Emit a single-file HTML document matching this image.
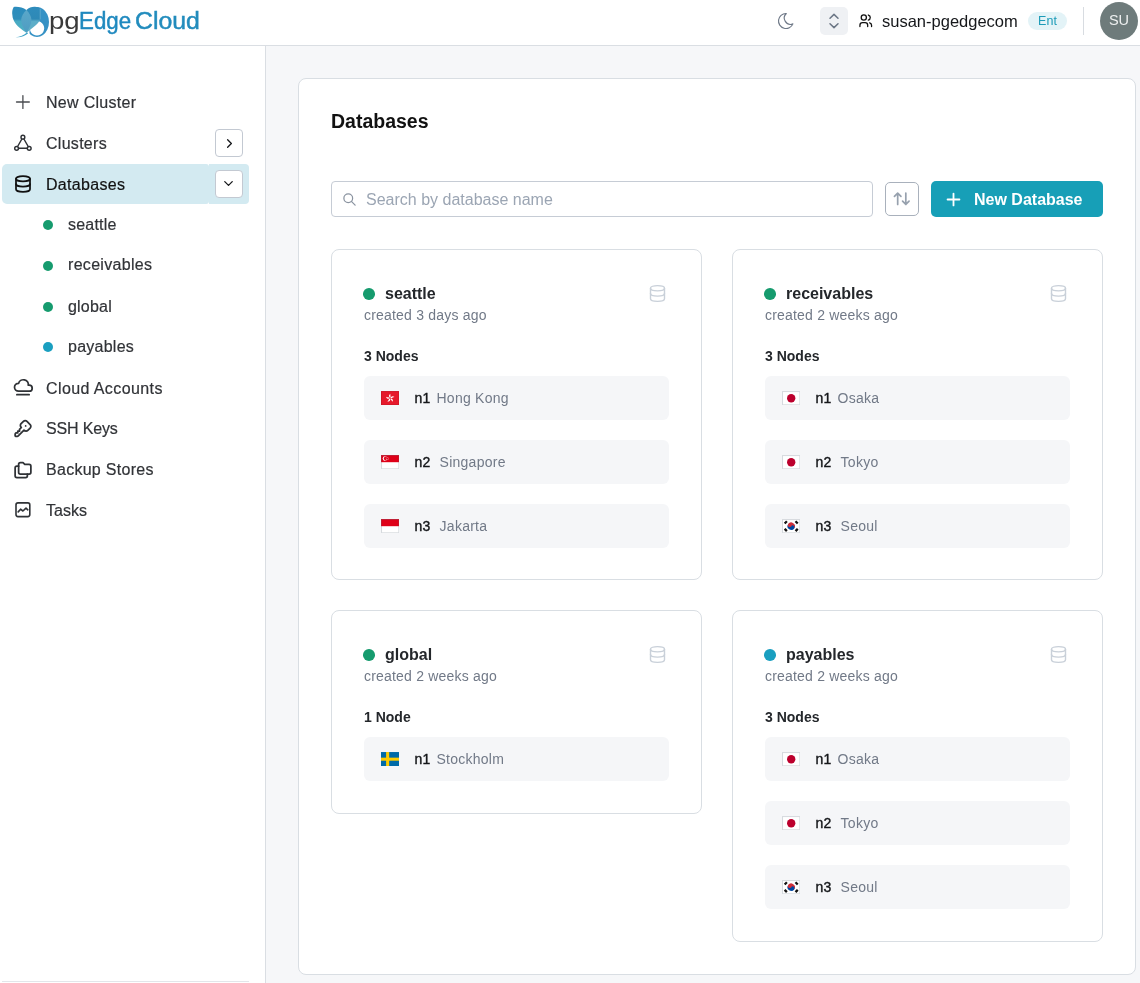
<!DOCTYPE html>
<html><head><meta charset="utf-8">
<style>
*{box-sizing:border-box;margin:0;padding:0}
html,body{width:1140px;height:983px;overflow:hidden;background:#fff}
body{will-change:transform}
body{font-family:"Liberation Sans",Arial,sans-serif;color:#1f2328;position:relative}
.abs{position:absolute}
.logo{top:5.5px;font-size:23px;line-height:30px;white-space:nowrap;transform-origin:0 0}
#hdr{position:absolute;left:0;top:0;width:1140px;height:46px;background:#fff;border-bottom:1px solid #dadee3}
#side{position:absolute;left:0;top:46px;width:266px;height:937px;background:#fff;border-right:1px solid #dadee3}
#main{position:absolute;left:266px;top:46px;width:874px;height:937px;background:#f6f7f9}
#panel{position:absolute;left:298px;top:78px;width:838px;height:896.5px;background:#fff;border:1px solid #d9dee3;border-radius:8px}
.ico{position:absolute;fill:none;stroke-linecap:round;stroke-linejoin:round}
.sb{position:absolute;left:0;font-size:16px;line-height:24px;color:#313337;white-space:nowrap;-webkit-text-stroke:.2px currentColor}
.dot{position:absolute;border-radius:50%}
.card{position:absolute;width:371px;background:#fff;border:1px solid #d9dee3;border-radius:8px}
.cdot{position:absolute;left:31px;top:38.2px;width:11.7px;height:11.7px;border-radius:50%;background:#169b6e}
.ctitle{position:absolute;left:53px;top:33.5px;font-size:16px;line-height:20px;font-weight:700;color:#24272b;white-space:nowrap}
.csub{position:absolute;left:32px;top:54.9px;font-size:14px;line-height:20px;color:#717987;white-space:nowrap;letter-spacing:.2px}
.cdb{position:absolute;left:315.4px;top:32.6px}
.cnodes{position:absolute;left:32px;top:96px;font-size:14px;line-height:20px;font-weight:700;color:#24272b;white-space:nowrap}
.row{position:absolute;left:32px;width:305px;height:43.5px;background:#f5f6f8;border-radius:6px}
.flag{position:absolute;left:16.6px;top:15px;width:18.4px;height:14.4px}
.nid{position:absolute;left:50.6px;top:12.45px;font-size:14px;line-height:20px;white-space:nowrap;color:#15171a;-webkit-text-stroke:.4px #15171a}
.nloc{position:absolute;top:12.45px;font-size:14px;line-height:20px;white-space:nowrap;color:#717987;letter-spacing:.25px}
</style></head><body>

<!-- HEADER -->
<div id="hdr">
  <!-- logo mark -->
  <svg class="abs" style="left:10px;top:4px" width="42" height="36" viewBox="0 0 42 36">
    <defs>
      <linearGradient id="lgL" x1="0" y1="0" x2="0" y2="1">
        <stop offset="0" stop-color="#2b8cbd"/><stop offset="0.47" stop-color="#2f8eba"/><stop offset="0.56" stop-color="#49aac3"/><stop offset="1" stop-color="#50b0c4"/>
      </linearGradient>
      <linearGradient id="lgR" x1="0" y1="0" x2="0" y2="1">
        <stop offset="0" stop-color="#2f8cbc"/><stop offset="0.47" stop-color="#2e89b6"/><stop offset="0.56" stop-color="#5cadc8"/><stop offset="1" stop-color="#62b0c8"/>
      </linearGradient>
      <linearGradient id="lgM" x1="0" y1="0" x2="0" y2="1">
        <stop offset="0" stop-color="#5aa7c9"/><stop offset="1" stop-color="#4e9dc2"/>
      </linearGradient>
    </defs>
    <path fill-rule="evenodd" fill="#3692c5" d="M27,3 A12,15 0 1 1 26.99,3 Z M27,17.1 A7.2,7.2 0 1 0 27.01,17.1 Z"/>
    <path fill="#fff" d="M14,19 L19.5,24 L19.5,34 L14,34 Z"/>
    <path fill="url(#lgL)" d="M16.4,5.9 C13,3.2 7,2.4 3.7,3 C2.2,5.5 1.9,8.5 2.4,11.2 C2.6,17 7,22.8 16.4,28.7 Z"/>
    <path fill="url(#lgR)" d="M16.4,5.9 C19,3.5 22,2.6 25,2.8 C27.5,3 29.3,3.6 30.2,4.6 L30.2,15.6 C28.5,19 26,21.5 23,23.5 C20.5,25.5 18,27.5 16.4,28.7 Z"/>
    <path fill="url(#lgM)" d="M16.4,6 C13.5,9 11.2,12.5 11.2,15.5 C11.2,20 13.8,25 16.4,28.7 C19,25 21.4,20 21.4,15.5 C21.4,12.5 19.3,9 16.4,6 Z"/>
    <path fill="#3ba0c6" d="M17.2,28.2 C14,31 10,32.9 5.5,33.2 C10,33.9 14.5,32.4 18,29.6 Z"/>
    <path d="M30.2,4.8 L30.2,15.4" stroke="#92c6de" stroke-width="0.45" fill="none"/>
  </svg>
  <div class="abs logo" style="left:49.4px;transform:scaleX(1.2);color:#3a3a3a">pg</div>
  <div class="abs logo" style="left:79px;transform:scaleX(0.97);color:#1f89bf;-webkit-text-stroke:.45px #1f89bf">Edge</div>
  <div class="abs logo" style="left:134.6px;transform:scaleX(1.08);color:#228cbd;-webkit-text-stroke:.45px #228cbd">Cloud</div>

  <!-- moon -->
  <svg class="ico" style="left:776px;top:11px" width="20" height="20" viewBox="0 0 24 24" stroke="#6e7887" stroke-width="1.4"><path d="M12 3c.132 0 .263 0 .393 0a7.5 7.5 0 0 0 7.92 12.446a9 9 0 1 1 -8.313 -12.454z"/></svg>
  <!-- selector -->
  <div class="abs" style="left:820px;top:7px;width:28px;height:28px;background:#eff1f4;border-radius:5px"></div>
  <svg class="ico" style="left:822px;top:9px" width="24" height="24" viewBox="0 0 24 24" stroke="#6b7685" stroke-width="1.5"><path d="M8 9.2l4 -3.8l4 3.8"/><path d="M16 14.8l-4 3.8l-4 -3.8"/></svg>
  <!-- users -->
  <svg class="ico" style="left:858.3px;top:13.3px" width="15.5" height="15.5" viewBox="0 0 24 24" stroke="#111" stroke-width="2"><path d="M5 7a4 4 0 1 0 8 0a4 4 0 1 0 -8 0"/><path d="M3 21v-2a4 4 0 0 1 4 -4h4a4 4 0 0 1 4 4v2"/><path d="M16 3.13a4 4 0 0 1 0 7.75"/><path d="M21 21v-2a4 4 0 0 0 -3 -3.85"/></svg>
  <div class="abs" style="left:882px;top:9px;font-size:16.5px;line-height:24px;color:#15171a;white-space:nowrap">susan-pgedgecom</div>
  <div class="abs" style="left:1028px;top:12px;width:39px;height:18px;border-radius:9px;background:#e3f3f7;color:#1c9bb8;font-size:12.5px;line-height:18px;text-align:center">Ent</div>
  <div class="abs" style="left:1083px;top:7px;width:1px;height:28px;background:#d8dce1"></div>
  <div class="abs" style="left:1100px;top:2px;width:38px;height:38px;border-radius:50%;background:#6e7b7b;color:#eef0f0;font-size:14.5px;line-height:37px;text-align:center">SU</div>
</div>

<!-- SIDEBAR -->
<div id="side"></div>
<div id="sideItems">
  <!-- Databases highlight -->
  <div class="abs" style="left:2px;top:164px;width:206.5px;height:40px;background:#d3eaf1;border-radius:5px 3px 3px 5px"></div>
  <div class="abs" style="left:208.5px;top:164px;width:40.5px;height:40px;background:#d3eaf1;border-radius:0 4px 4px 0"></div>
  <!-- chevron buttons -->
  <div class="abs" style="left:215px;top:129px;width:28px;height:28px;border:1px solid #c3c9d2;border-radius:4px;background:#fff"></div>
  <svg class="ico" style="left:221.5px;top:135.5px" width="15" height="15" viewBox="0 0 24 24" stroke="#15171a" stroke-width="2.1"><path d="M9 6l6 6l-6 6"/></svg>
  <div class="abs" style="left:215px;top:170px;width:28px;height:28px;border:1px solid #c3c9d2;border-radius:4px;background:#fff"></div>
  <svg class="ico" style="left:221.3px;top:176px" width="15" height="15" viewBox="0 0 24 24" stroke="#15171a" stroke-width="2.1"><path d="M6 9l6 6l6 -6"/></svg>

  <!-- icons (page coords) -->
  <svg class="ico" style="left:0;top:0" width="60" height="540" viewBox="0 0 60 540" stroke-width="1.75">
    <path d="M16.5,102 H29.3 M22.9,95.6 V108.4" stroke="#4a4c50" stroke-width="1.3"/>
    <g stroke="#2f3236" stroke-width="1.45">
      <circle cx="22.9" cy="137.2" r="1.9"/><circle cx="16.6" cy="148.3" r="1.9"/><circle cx="29.2" cy="148.3" r="1.9"/>
      <path d="M21.9,139 L17.6,146.5 M23.9,139 L28.2,146.5 M18.5,148.3 H27.3"/>
    </g>
    <g transform="translate(12.5,173.5) scale(0.875)" stroke="#111" stroke-width="2">
      <path d="M4 6a8 3 0 1 0 16 0a8 3 0 1 0 -16 0"/><path d="M4 6v6a8 3 0 0 0 16 0v-6"/><path d="M4 12v6a8 3 0 0 0 16 0v-6"/>
    </g>
    <g transform="translate(12.5,377.2) scale(0.875)" stroke="#2f3236" stroke-width="2">
      <path d="M7 16a4.6 4.4 0 0 1 0 -9a5 4.5 0 0 1 11 2h1a3.5 3.5 0 0 1 0 7h-12"/><path d="M5 20l14 0"/>
    </g>
    <g transform="translate(12.5,418) scale(0.875)" stroke="#2f3236" stroke-width="2">
      <path d="M16.555 3.843l3.602 3.602a2.877 2.877 0 0 1 0 4.069l-2.643 2.643a2.877 2.877 0 0 1 -4.069 0l-.301 -.301l-6.558 6.558a2 2 0 0 1 -1.239 .578l-.175 .008h-1.172a1 1 0 0 1 -.993 -.883l-.007 -.117v-1.172a2 2 0 0 1 .467 -1.284l.119 -.13l.414 -.414h2v-2h2v-2l2.144 -2.144l-.301 -.301a2.877 2.877 0 0 1 0 -4.069l2.643 -2.643a2.877 2.877 0 0 1 4.069 0z"/><path d="M15 9h.01"/>
    </g>
    <g transform="translate(12.5,459.2) scale(0.875)" stroke="#2f3236" stroke-width="2">
      <path d="M9 4h3l2 2h5a2 2 0 0 1 2 2v7a2 2 0 0 1 -2 2h-10a2 2 0 0 1 -2 -2v-9a2 2 0 0 1 2 -2"/><path d="M17 17v2a2 2 0 0 1 -2 2h-10a2 2 0 0 1 -2 -2v-9a2 2 0 0 1 2 -2h2"/>
    </g>
    <g stroke="#2f3236" stroke-width="1.6">
      <rect x="16" y="502.9" width="13.8" height="13.7" rx="2"/>
      <path d="M18.2,511.9 L20.6,509.2 L22.9,511 L26,508.1 L27.8,509.8"/>
    </g>
  </svg>

  <div class="sb" style="left:46px;top:91px;letter-spacing:0.3px">New Cluster</div>
  <div class="sb" style="left:46px;top:132px;letter-spacing:0.28px">Clusters</div>
  <div class="sb" style="left:46px;top:173px;color:#111;letter-spacing:0.3px">Databases</div>
  <div class="dot" style="left:43px;top:220px;width:10px;height:10px;background:#169b6e"></div>
  <div class="sb" style="left:68px;top:213px;letter-spacing:0.2px">seattle</div>
  <div class="dot" style="left:43px;top:261px;width:10px;height:10px;background:#169b6e"></div>
  <div class="sb" style="left:68px;top:253px;letter-spacing:0.3px">receivables</div>
  <div class="dot" style="left:43px;top:301.5px;width:10px;height:10px;background:#169b6e"></div>
  <div class="sb" style="left:68px;top:295px;letter-spacing:0.2px">global</div>
  <div class="dot" style="left:43px;top:342px;width:10px;height:10px;background:#1a9fc0"></div>
  <div class="sb" style="left:68px;top:335px;letter-spacing:0.25px">payables</div>
  <div class="sb" style="left:46px;top:377px;letter-spacing:0.4px">Cloud Accounts</div>
  <div class="sb" style="left:46px;top:417px;letter-spacing:-0.15px">SSH Keys</div>
  <div class="sb" style="left:46px;top:458px;letter-spacing:0.28px">Backup Stores</div>
  <div class="sb" style="left:46px;top:498.5px">Tasks</div>
  <div class="abs" style="left:2px;top:981px;width:247px;height:1px;background:#e3e6ea"></div>
</div>

<!-- MAIN -->
<div id="main"></div>
<div id="panel"></div>
<div class="abs" style="left:331px;top:108px;font-size:19.5px;line-height:26px;font-weight:700;color:#111">Databases</div>

<!-- search -->
<div class="abs" style="left:331px;top:181px;width:542px;height:36px;border:1px solid #c6ccd5;border-radius:4px;background:#fff"></div>
<svg class="ico" style="left:342px;top:192px" width="15" height="15" viewBox="0 0 24 24" stroke="#8a93a0" stroke-width="2"><path d="M3 10a7 7 0 1 0 14 0a7 7 0 1 0 -14 0"/><path d="M21 21l-6 -6"/></svg>
<div class="abs" style="left:366px;top:188px;font-size:16px;line-height:24px;color:#9ba5b3;white-space:nowrap">Search by database name</div>
<!-- sort btn -->
<div class="abs" style="left:885px;top:182px;width:34px;height:34px;border:1px solid #a9b1bc;border-radius:5px;background:#fff"></div>
<svg class="ico" style="left:892.1px;top:189.1px" width="19.5" height="19.5" viewBox="0 0 24 24" stroke="#97a1ae" stroke-width="2.1"><path d="M3 9l4 -4l4 4m-4 -4v14"/><path d="M21 15l-4 4l-4 -4m4 4v-14"/></svg>
<!-- new database btn -->
<div class="abs" style="left:931px;top:181px;width:172px;height:36px;border-radius:5px;background:#179fb7"></div>
<svg class="ico" style="left:944.3px;top:189.7px" width="19" height="19" viewBox="0 0 24 24" stroke="#fff" stroke-width="2.3"><path d="M12 4.5v15m7.5-7.5h-15"/></svg>
<div class="abs" style="left:974px;top:188px;font-size:16px;line-height:24px;font-weight:700;color:#fff;white-space:nowrap">New Database</div>

<!-- CARDS -->
<div id="cards">
<div class="card" style="left:331px;top:249px;height:331px">
  <div class="cdot" style="background:#169b6e"></div><div class="ctitle">seattle</div><svg class="cdb ico" width="21" height="21" viewBox="0 0 24 24" stroke="#c9d0d9" stroke-width="1.6"><path d="M4 6a8 3 0 1 0 16 0a8 3 0 1 0 -16 0"/><path d="M4 6v6a8 3 0 0 0 16 0v-6"/><path d="M4 12v6a8 3 0 0 0 16 0v-6"/></svg>
  <div class="csub">created 3 days ago</div>
  <div class="cnodes">3 Nodes</div>
  <div class="row" style="top:126px"><svg class="flag" viewBox="0 0 18 14"><rect width="18" height="14" fill="#e6192b"/><g fill="#fff" transform="translate(9,7)"><path d="M0,-0.4 C-1.6,-1.2 -1.6,-3.4 0.2,-4.3 C-0.3,-3 0.9,-1.6 0,-0.4Z" transform="rotate(0)"/><path d="M0,-0.4 C-1.6,-1.2 -1.6,-3.4 0.2,-4.3 C-0.3,-3 0.9,-1.6 0,-0.4Z" transform="rotate(72)"/><path d="M0,-0.4 C-1.6,-1.2 -1.6,-3.4 0.2,-4.3 C-0.3,-3 0.9,-1.6 0,-0.4Z" transform="rotate(144)"/><path d="M0,-0.4 C-1.6,-1.2 -1.6,-3.4 0.2,-4.3 C-0.3,-3 0.9,-1.6 0,-0.4Z" transform="rotate(216)"/><path d="M0,-0.4 C-1.6,-1.2 -1.6,-3.4 0.2,-4.3 C-0.3,-3 0.9,-1.6 0,-0.4Z" transform="rotate(288)"/></g><rect x=".5" y=".5" width="17" height="13" fill="none" stroke="#000" stroke-opacity=".1"/></svg><div class="nid">n1</div><div class="nloc" style="left:72.5px">Hong Kong</div></div>
  <div class="row" style="top:190px"><svg class="flag" viewBox="0 0 18 14"><rect width="18" height="14" fill="#fff"/><rect width="18" height="7" fill="#df0018"/><circle cx="4" cy="3.5" r="2.3" fill="#fff"/><circle cx="4.9" cy="3.5" r="2.1" fill="#df0018"/><g fill="#fff"><circle cx="6" cy="2.3" r=".45"/><circle cx="7.2" cy="3" r=".45"/><circle cx="6.8" cy="4.4" r=".45"/><circle cx="5.3" cy="4.4" r=".45"/><circle cx="5" cy="3" r=".45"/></g><rect x=".5" y=".5" width="17" height="13" fill="none" stroke="#5a6a7a" stroke-opacity=".25"/></svg><div class="nid">n2</div><div class="nloc" style="left:75.6px">Singapore</div></div>
  <div class="row" style="top:254px"><svg class="flag" viewBox="0 0 18 14"><rect width="18" height="14" fill="#fff"/><rect width="18" height="7" fill="#df0018"/><rect x=".5" y=".5" width="17" height="13" fill="none" stroke="#5a6a7a" stroke-opacity=".25"/></svg><div class="nid">n3</div><div class="nloc" style="left:75.6px">Jakarta</div></div>
</div>
<div class="card" style="left:732px;top:249px;height:331px">
  <div class="cdot" style="background:#169b6e"></div><div class="ctitle">receivables</div><svg class="cdb ico" width="21" height="21" viewBox="0 0 24 24" stroke="#c9d0d9" stroke-width="1.6"><path d="M4 6a8 3 0 1 0 16 0a8 3 0 1 0 -16 0"/><path d="M4 6v6a8 3 0 0 0 16 0v-6"/><path d="M4 12v6a8 3 0 0 0 16 0v-6"/></svg>
  <div class="csub">created 2 weeks ago</div>
  <div class="cnodes">3 Nodes</div>
  <div class="row" style="top:126px"><svg class="flag" viewBox="0 0 18 14"><rect width="18" height="14" fill="#fff"/><circle cx="9" cy="7" r="4.1" fill="#bc002d"/><rect x=".5" y=".5" width="17" height="13" fill="none" stroke="#5a6a7a" stroke-opacity=".25"/></svg><div class="nid">n1</div><div class="nloc" style="left:72.5px">Osaka</div></div>
  <div class="row" style="top:190px"><svg class="flag" viewBox="0 0 18 14"><rect width="18" height="14" fill="#fff"/><circle cx="9" cy="7" r="4.1" fill="#bc002d"/><rect x=".5" y=".5" width="17" height="13" fill="none" stroke="#5a6a7a" stroke-opacity=".25"/></svg><div class="nid">n2</div><div class="nloc" style="left:75.6px">Tokyo</div></div>
  <div class="row" style="top:254px"><svg class="flag" viewBox="0 0 18 14"><rect width="18" height="14" fill="#fff"/><g transform="translate(9,7) rotate(33.7)"><path d="M-3.6,0 A3.6,3.6 0 0 1 3.6,0 Z" fill="#cd2e3a"/><path d="M-3.6,0 A3.6,3.6 0 0 0 3.6,0 Z" fill="#0047a0"/><circle cx="-1.8" cy="0" r="1.8" fill="#cd2e3a"/><circle cx="1.8" cy="0" r="1.8" fill="#0047a0"/></g><g stroke="#111" stroke-width="1.1"><path d="M2.2,4 L4.4,1.8 M3,4.8 L5.2,2.6"/><path d="M13.6,1.8 L15.8,4 M12.8,2.6 L15,4.8"/><path d="M2.2,10 L4.4,12.2 M3,9.2 L5.2,11.4"/><path d="M13.6,12.2 L15.8,10 M12.8,11.4 L15,9.2"/></g><rect x=".5" y=".5" width="17" height="13" fill="none" stroke="#5a6a7a" stroke-opacity=".25"/></svg><div class="nid">n3</div><div class="nloc" style="left:75.6px">Seoul</div></div>
</div>
<div class="card" style="left:331px;top:610px;height:203.5px">
  <div class="cdot" style="background:#169b6e"></div><div class="ctitle">global</div><svg class="cdb ico" width="21" height="21" viewBox="0 0 24 24" stroke="#c9d0d9" stroke-width="1.6"><path d="M4 6a8 3 0 1 0 16 0a8 3 0 1 0 -16 0"/><path d="M4 6v6a8 3 0 0 0 16 0v-6"/><path d="M4 12v6a8 3 0 0 0 16 0v-6"/></svg>
  <div class="csub">created 2 weeks ago</div>
  <div class="cnodes">1 Node</div>
  <div class="row" style="top:126px"><svg class="flag" viewBox="0 0 18 14"><rect width="18" height="14" fill="#006aa7"/><rect x="5" width="3" height="14" fill="#fecc00"/><rect y="5.5" width="18" height="3" fill="#fecc00"/></svg><div class="nid">n1</div><div class="nloc" style="left:72.5px">Stockholm</div></div>
</div>
<div class="card" style="left:732px;top:610px;height:331.5px">
  <div class="cdot" style="background:#1a9fc0"></div><div class="ctitle">payables</div><svg class="cdb ico" width="21" height="21" viewBox="0 0 24 24" stroke="#c9d0d9" stroke-width="1.6"><path d="M4 6a8 3 0 1 0 16 0a8 3 0 1 0 -16 0"/><path d="M4 6v6a8 3 0 0 0 16 0v-6"/><path d="M4 12v6a8 3 0 0 0 16 0v-6"/></svg>
  <div class="csub">created 2 weeks ago</div>
  <div class="cnodes">3 Nodes</div>
  <div class="row" style="top:126px"><svg class="flag" viewBox="0 0 18 14"><rect width="18" height="14" fill="#fff"/><circle cx="9" cy="7" r="4.1" fill="#bc002d"/><rect x=".5" y=".5" width="17" height="13" fill="none" stroke="#5a6a7a" stroke-opacity=".25"/></svg><div class="nid">n1</div><div class="nloc" style="left:72.5px">Osaka</div></div>
  <div class="row" style="top:190px"><svg class="flag" viewBox="0 0 18 14"><rect width="18" height="14" fill="#fff"/><circle cx="9" cy="7" r="4.1" fill="#bc002d"/><rect x=".5" y=".5" width="17" height="13" fill="none" stroke="#5a6a7a" stroke-opacity=".25"/></svg><div class="nid">n2</div><div class="nloc" style="left:75.6px">Tokyo</div></div>
  <div class="row" style="top:254px"><svg class="flag" viewBox="0 0 18 14"><rect width="18" height="14" fill="#fff"/><g transform="translate(9,7) rotate(33.7)"><path d="M-3.6,0 A3.6,3.6 0 0 1 3.6,0 Z" fill="#cd2e3a"/><path d="M-3.6,0 A3.6,3.6 0 0 0 3.6,0 Z" fill="#0047a0"/><circle cx="-1.8" cy="0" r="1.8" fill="#cd2e3a"/><circle cx="1.8" cy="0" r="1.8" fill="#0047a0"/></g><g stroke="#111" stroke-width="1.1"><path d="M2.2,4 L4.4,1.8 M3,4.8 L5.2,2.6"/><path d="M13.6,1.8 L15.8,4 M12.8,2.6 L15,4.8"/><path d="M2.2,10 L4.4,12.2 M3,9.2 L5.2,11.4"/><path d="M13.6,12.2 L15.8,10 M12.8,11.4 L15,9.2"/></g><rect x=".5" y=".5" width="17" height="13" fill="none" stroke="#5a6a7a" stroke-opacity=".25"/></svg><div class="nid">n3</div><div class="nloc" style="left:75.6px">Seoul</div></div>
</div>
</div>

</body></html>
